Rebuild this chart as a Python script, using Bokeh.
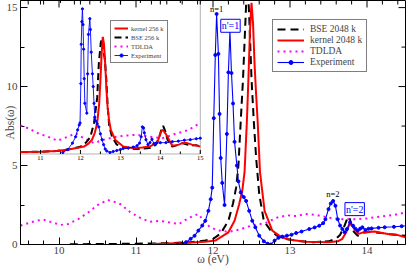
import numpy as np
from bokeh.plotting import figure
from bokeh.models import (Range1d, SingleIntervalTicker, Legend, LegendItem,
                          BoxAnnotation, Label)
from bokeh.embed import file_html
from bokeh.resources import INLINE
from bokeh.core.properties import value

# ---------------- main panel data ----------------
bse_x = [10.14, 10.6, 11.0, 11.4, 11.7, 11.9, 12.0, 12.1, 12.2, 12.26, 12.3, 12.33, 12.36, 12.39, 12.42,
         12.445, 12.47, 12.5, 12.53, 12.56, 12.6, 12.66, 12.75, 12.83, 12.95, 13.1, 13.3, 13.5, 13.6, 13.65,
         13.7, 13.74, 13.77, 13.8, 13.83, 13.88, 13.95, 14.05, 14.15, 14.3, 14.4, 14.5]
bse_y = [0.02, 0.03, 0.05, 0.08, 0.15, 0.25, 0.35, 0.7, 1.5, 2.6, 3.6, 5.0, 7.8, 10.5, 14.0,
         17.0, 14.5, 10.5, 7.8, 5.5, 3.2, 1.5, 0.88, 0.56, 0.35, 0.22, 0.15, 0.2, 0.38, 0.6,
         1.1, 1.6, 1.75, 1.2, 0.8, 0.55, 0.75, 0.8, 0.75, 0.65, 0.6, 0.55]

ker_x = [11.2, 11.6, 11.9, 12.03, 12.2, 12.28, 12.34, 12.38, 12.41, 12.44, 12.46, 12.48, 12.5, 12.52,
         12.54, 12.56, 12.58, 12.61, 12.67, 12.77, 12.89, 13.0, 13.2, 13.5, 13.62, 13.68, 13.73, 13.78,
         13.82, 13.89, 13.95, 14.1, 14.27, 14.39, 14.5]
ker_y = [0.03, 0.1, 0.18, 0.25, 0.77, 1.5, 2.55, 3.4, 4.6, 7.8, 10.5, 13.5, 15.3, 14.0,
         11.4, 9.5, 7.8, 4.6, 2.13, 0.88, 0.46, 0.3, 0.18, 0.15, 0.2, 0.36, 0.77, 1.4,
         1.09, 0.67, 0.77, 0.82, 0.67, 0.61, 0.46]

td_x = [9.5, 9.6, 9.7, 9.8, 9.91, 10.02, 10.12, 10.25, 10.38, 10.5, 10.63, 10.72, 10.8, 10.93, 11.05,
        11.18, 11.31, 11.43, 11.56, 11.69, 11.81, 11.88, 11.95, 12.05, 12.2, 12.35, 12.5, 12.68, 12.83,
        12.96, 13.08, 13.2, 13.34, 13.51, 13.68, 13.85, 14.0, 14.18, 14.35, 14.5]
td_y = [1.2, 1.35, 1.5, 1.57, 1.4, 1.24, 1.3, 1.61, 2.03, 2.49, 2.82, 2.7, 2.55, 2.03, 1.7,
        1.44, 1.5, 1.4, 1.3, 1.7, 1.93, 1.5, 1.15, 0.9, 0.8, 0.95, 1.2, 1.35, 1.7,
        1.85, 1.8, 1.93, 1.87, 1.7, 1.6, 1.6, 1.65, 1.78, 1.87, 2.03]

exp_x = [11.54, 11.6, 11.65, 11.71, 11.76, 11.81, 11.86, 11.9, 11.94, 11.97, 11.99, 12.01, 12.03, 12.047,
         12.07, 12.085, 12.10, 12.12, 12.15, 12.18, 12.2, 12.22, 12.24, 12.26, 12.28, 12.31, 12.33, 12.36,
         12.4, 12.43, 12.47, 12.51, 12.55, 12.6, 12.66, 12.71, 12.75, 12.8, 12.85, 12.9, 12.96, 13.02,
         13.08, 13.15, 13.25, 13.32, 13.38, 13.43, 13.46, 13.5, 13.53, 13.56, 13.59, 13.62, 13.65, 13.68,
         13.71, 13.74, 13.78, 13.82, 13.85, 13.88, 13.91, 13.94, 13.98, 14.02, 14.06, 14.15, 14.23, 14.35,
         14.45, 14.52]
exp_y = [0.0, 0.04, 0.15, 0.36, 0.55, 0.88, 1.2, 1.5, 2.13, 2.87, 3.6, 8.0, 12.0, 14.6,
         12.07, 8.27, 5.48, 3.9, 2.5, 7.0, 10.9, 13.54, 10.86, 8.93, 6.5, 5.0, 4.0, 3.3,
         3.0, 2.76, 2.13, 1.5, 1.09, 0.56, 0.2, 0.05, 0.0, 0.25, 0.42, 0.5, 0.56, 0.62,
         0.73, 0.82, 0.98, 1.08, 1.19, 1.35, 1.6, 2.24, 2.6, 2.76, 2.45, 1.6, 1.2, 0.98,
         0.77, 0.98, 1.4, 1.19, 1.0, 0.88, 1.0, 1.09, 0.92, 1.0, 1.02, 1.06, 1.09, 1.12,
         1.16, 1.19]

main_labels = ["BSE 2048 k", "kernel 2048 k", "TDLDA", "Experiment"]
x_title = "ω (eV)"
y_title = "Abs(ω)"

ann_text = ["n=1", "n'=1", "n=2", "n'=2"]
ann_x = [12.047, 12.227, 13.557, 13.84]
ann_y = [14.9, 13.85, 3.18, 2.24]
ann_boxed = [False, True, False, True]

# main tick positions (top / right mirror ticks)
x_major = [10, 11, 12, 13, 14]
x_minor = [v for v in np.round(np.arange(9.6, 14.5, 0.2), 1) if v not in x_major]
y_major = [0, 5, 10, 15]
y_minor = [2.5, 7.5, 12.5]

# ---------------- inset data ----------------
ibse_x = [10.5, 11.0, 11.4, 11.7, 11.97, 12.09, 12.18, 12.25, 12.34, 12.42, 12.46, 12.51, 12.54, 12.57,
          12.61, 12.65, 12.68, 12.72, 12.79, 12.91, 13.15, 13.4, 13.6, 13.73, 13.82, 13.89, 13.95, 13.99,
          14.03, 14.07, 14.12, 14.18, 14.24, 14.3, 14.42, 14.55, 14.67, 14.79, 14.9, 15.0]
ibse_y = [0.05, 0.08, 0.15, 0.3, 0.55, 0.8, 1.2, 1.6, 3.0, 5.6, 9.0, 11.2, 11.5, 10.5,
          9.5, 7.3, 4.8, 2.7, 1.6, 0.8, 0.45, 0.35, 0.4, 0.45, 0.6, 0.8, 1.3, 1.8,
          2.4, 2.7, 2.2, 1.3, 0.9, 0.6, 0.75, 0.95, 0.8, 0.7, 0.75, 0.6]

iker_x = [10.5, 11.0, 11.4, 11.7, 11.97, 12.09, 12.2, 12.29, 12.36, 12.42, 12.47, 12.5, 12.53, 12.56,
          12.59, 12.62, 12.65, 12.68, 12.72, 12.76, 12.87, 13.07, 13.3, 13.55, 13.73, 13.8, 13.89, 13.95,
          13.99, 14.03, 14.06, 14.1, 14.18, 14.24, 14.3, 14.38, 14.46, 14.55, 14.63, 14.72, 14.79, 14.9, 15.0]
iker_y = [0.05, 0.08, 0.15, 0.3, 0.5, 0.6, 0.9, 1.3, 2.0, 3.0, 5.0, 7.3, 10.0, 11.75,
          11.0, 9.0, 6.5, 4.6, 3.2, 2.3, 1.3, 0.6, 0.45, 0.5, 0.6, 0.75, 0.95, 1.3,
          1.8, 2.2, 2.3, 2.1, 1.6, 1.1, 0.7, 0.7, 0.8, 0.95, 1.0, 0.9, 0.8, 0.7, 0.6]

itd_x = [10.5, 10.7, 10.94, 11.19, 11.43, 11.68, 11.88, 12.09, 12.34, 12.58, 12.83, 13.07, 13.4, 13.73,
         14.05, 14.38, 14.71, 15.0]
itd_y = [2.75, 2.45, 1.95, 1.6, 1.2, 1.6, 1.95, 1.45, 0.95, 1.3, 1.55, 1.7, 1.8, 1.6,
         1.45, 1.9, 2.3, 3.0]

iexp_x = [11.56, 11.68, 11.8, 11.88, 11.93, 11.97, 11.99, 12.01, 12.02, 12.035, 12.05, 12.065, 12.08,
          12.095, 12.11, 12.16, 12.18, 12.2, 12.235, 12.25, 12.27, 12.3, 12.32, 12.34, 12.36, 12.38,
          12.42, 12.46, 12.5, 12.54, 12.58, 12.62, 12.66, 12.74, 12.82, 12.91, 13.0, 13.07, 13.2, 13.32,
          13.42, 13.48, 13.52, 13.55, 13.58, 13.6, 13.64, 13.69, 13.74, 13.79, 13.84, 13.9, 14.0, 14.14,
          14.3, 14.45, 14.6, 14.75, 14.9, 15.0]
iexp_y = [0.0, 0.3, 0.95, 1.6, 2.3, 2.8, 3.0, 7.0, 11.0, 13.3, 14.6, 13.0, 10.5,
          7.5, 5.0, 4.0, 8.0, 12.0, 13.6, 12.5, 10.2, 8.0, 6.7, 5.0, 3.6, 3.2,
          2.9, 2.6, 1.9, 1.3, 0.8, 0.35, 0.15, 0.0, 0.1, 0.2, 0.3, 0.4, 0.45, 0.55,
          0.7, 0.95, 1.6, 2.6, 2.5, 2.0, 1.3, 0.8, 1.0, 1.35, 0.9, 0.95, 1.0, 1.0,
          1.1, 1.15, 1.25, 1.3, 1.4, 1.45]

inset_labels = ["kernel 256 k", "BSE 256 k", "TDLDA", "Experiment"]
inset_major = [11, 12, 13, 14, 15]
inset_minor = [11.5, 12.5, 13.5, 14.5]

# ---------------- layout parameters ----------------
SERIF = "Liberation Serif"
X_RANGE = (9.5, 14.5)
Y_RANGE = (0.0, 15.45)
INSET_X = (10.5, 15.0)
INSET_Y = (-0.15, 15.45)
INSET_WFRAC = 0.467   # inset width / frame width
INSET_HFRAC = 0.629   # inset height / frame height

p = figure(width=407, height=267, output_backend="svg", toolbar_location=None,
           x_range=Range1d(*X_RANGE), y_range=Range1d(*Y_RANGE),
           min_border_left=0, min_border_right=2, min_border_top=0, min_border_bottom=0,
           background_fill_color="white", border_fill_color="white")
p.xgrid.visible = False
p.ygrid.visible = False
p.outline_line_color = "black"
p.outline_line_width = 1

p.extra_x_ranges = {"inset": Range1d(INSET_X[0], INSET_X[0] + (INSET_X[1] - INSET_X[0]) / INSET_WFRAC)}
p.extra_y_ranges = {"inset": Range1d(INSET_Y[1] - (INSET_Y[1] - INSET_Y[0]) / INSET_HFRAC, INSET_Y[1])}

for ax in (p.xaxis[0], p.yaxis[0]):
    ax.major_tick_in = 7
    ax.major_tick_out = 0
    ax.minor_tick_in = 4
    ax.minor_tick_out = 0
    ax.axis_line_color = "black"
    ax.major_tick_line_color = "black"
    ax.minor_tick_line_color = "black"
    ax.major_label_text_font = SERIF
    ax.axis_label_text_font = SERIF
    ax.axis_label_text_font_style = "normal"
    ax.major_label_text_font_size = "11px"
    ax.axis_label_text_font_size = "11.5px"

p.xaxis.ticker = SingleIntervalTicker(interval=1, num_minor_ticks=5)
p.yaxis.ticker = SingleIntervalTicker(interval=5, num_minor_ticks=2)
p.xaxis.axis_label = x_title
p.yaxis.axis_label = y_title
p.xaxis.major_label_standoff = 2
p.xaxis.axis_label_standoff = -4
p.yaxis.major_label_standoff = 3
p.yaxis.axis_label_standoff = -12

# mirror ticks on top and right
tk = dict(length_units="screen", line_color="black", line_width=1)
p.ray(x=x_major, y=[Y_RANGE[1]] * len(x_major), length=7, angle=-np.pi / 2, **tk)
p.ray(x=x_minor, y=[Y_RANGE[1]] * len(x_minor), length=4, angle=-np.pi / 2, **tk)
p.ray(x=[X_RANGE[1]] * len(y_major), y=y_major, length=7, angle=np.pi, **tk)
p.ray(x=[X_RANGE[1]] * len(y_minor), y=y_minor, length=4, angle=np.pi, **tk)

# ---------------- main curves ----------------
r_bse = p.line(bse_x, bse_y, line_color="black", line_width=2, line_dash="8 5")
r_ker = p.line(ker_x, ker_y, line_color="red", line_width=2)
r_td = p.line(td_x, td_y, line_color="magenta", line_width=2, line_dash="2 4")
r_expl = p.line(exp_x, exp_y, line_color="blue", line_width=1.1)
r_exps = p.scatter(exp_x, exp_y, size=3, color="blue")

# ---------------- inset ----------------
kw = dict(x_range_name="inset", y_range_name="inset", level="overlay")
box = BoxAnnotation(left=INSET_X[0], right=INSET_X[1], bottom=INSET_Y[0], top=INSET_Y[1],
                    x_range_name="inset", y_range_name="inset",
                    fill_alpha=0, line_color="black", line_width=1)
p.add_layout(box)
ri_td = p.line(itd_x, itd_y, line_color="magenta", line_width=2, line_dash="2 4", **kw)
ri_bse = p.line(ibse_x, ibse_y, line_color="black", line_width=2, line_dash="7 4", **kw)
ri_ker = p.line(iker_x, iker_y, line_color="red", line_width=2, **kw)
ri_expl = p.line(iexp_x, iexp_y, line_color="blue", line_width=0.9, **kw)
ri_exps = p.scatter(iexp_x, iexp_y, size=2.2, color="blue", **kw)

p.ray(x=inset_major, y=[INSET_Y[0]] * len(inset_major), length=4, angle=np.pi / 2, **tk, **kw)
p.ray(x=inset_minor, y=[INSET_Y[0]] * len(inset_minor), length=2.5, angle=np.pi / 2, **tk, **kw)
p.ray(x=inset_major, y=[INSET_Y[1]] * len(inset_major), length=4, angle=-np.pi / 2, **tk, **kw)
p.ray(x=inset_minor, y=[INSET_Y[1]] * len(inset_minor), length=2.5, angle=-np.pi / 2, **tk, **kw)
p.text(x=inset_major, y=[INSET_Y[0]] * len(inset_major), text=[str(v) for v in inset_major],
       text_font=value(SERIF), text_font_size="6.5px", text_align="center", text_baseline="top",
       y_offset=2, text_color="black", **kw)

# ---------------- legends ----------------
leg_main = Legend(items=[LegendItem(label=main_labels[0], renderers=[r_bse]),
                         LegendItem(label=main_labels[1], renderers=[r_ker]),
                         LegendItem(label=main_labels[2], renderers=[r_td]),
                         LegendItem(label=main_labels[3], renderers=[r_expl, r_exps])],
                  location=(252, 172))
leg_in = Legend(items=[LegendItem(label=inset_labels[0], renderers=[ri_ker]),
                       LegendItem(label=inset_labels[1], renderers=[ri_bse]),
                       LegendItem(label=inset_labels[2], renderers=[ri_td]),
                       LegendItem(label=inset_labels[3], renderers=[ri_expl, ri_exps])],
                location=(90, 181))
for lg, fs, gw, lh, pad, so in ((leg_main, "9.5px", 27, 10, 4, 6), (leg_in, "6.5px", 14, 8, 3, 3)):
    lg.label_text_font = SERIF
    lg.label_text_font_size = fs
    lg.glyph_width = gw
    lg.glyph_height = lh
    lg.label_height = lh
    lg.spacing = 1
    lg.padding = pad
    lg.margin = 0
    lg.label_standoff = so
    lg.border_line_color = "black"
    lg.border_line_width = 1
    lg.background_fill_color = "white"
    lg.background_fill_alpha = 1
    p.add_layout(lg)

# ---------------- annotations ----------------
for t, x, y, boxed in zip(ann_text, ann_x, ann_y, ann_boxed):
    if boxed:
        lab = Label(x=x, y=y, text=t, text_font=SERIF, text_font_size="10px", text_color="blue",
                    text_align="center", text_baseline="middle",
                    border_line_color="blue", border_line_width=1,
                    background_fill_color="white", background_fill_alpha=1, padding=1)
    else:
        lab = Label(x=x, y=y, text=t, text_font=SERIF, text_font_size="8.5px", text_color="black",
                    text_align="center", text_baseline="middle")
    p.add_layout(lab)

open("out.html", "w").write(file_html(p, INLINE))
